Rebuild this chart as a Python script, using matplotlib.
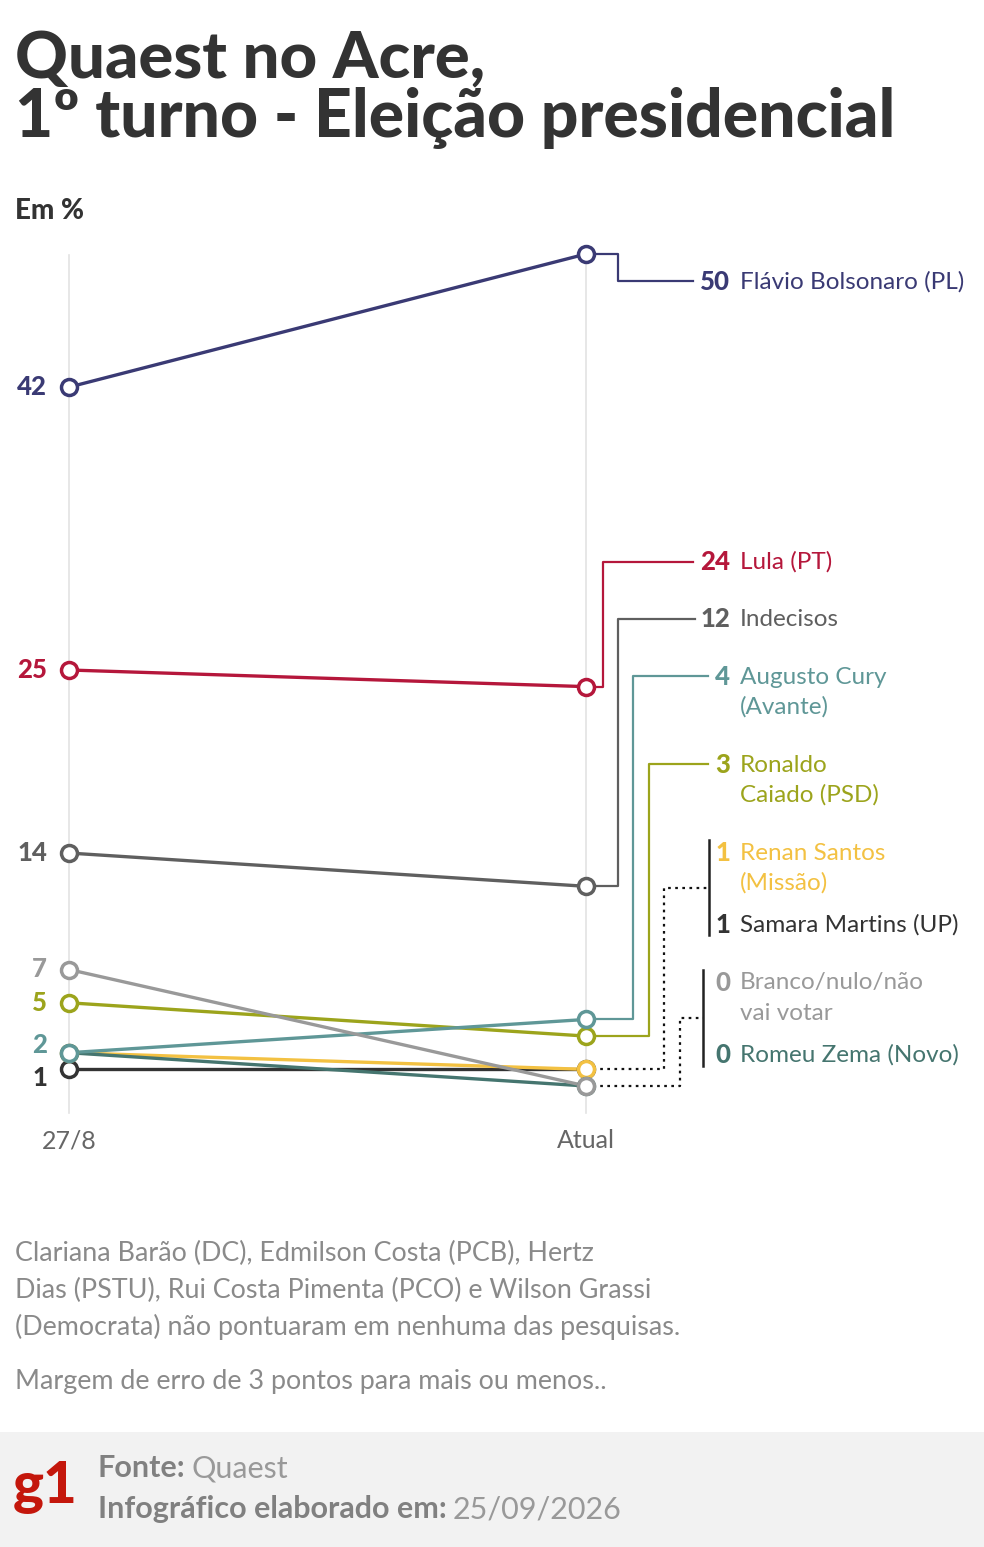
import matplotlib
matplotlib.use("Agg")
import matplotlib.pyplot as plt
from matplotlib.patches import Rectangle

# ---------------- data ----------------
periods = ["27/8", "Atual"]
names = ["Flávio Bolsonaro (PL)", "Lula (PT)", "Indecisos", "Augusto Cury\n(Avante)",
         "Ronaldo\nCaiado (PSD)", "Renan Santos\n(Missão)", "Romeu Zema (Novo)",
         "Samara Martins (UP)", "Branco/nulo/não\nvai votar"]
first = [42, 25, 14, 2, 5, 2, 2, 1, 7]
current = [50, 24, 12, 4, 3, 1, 0, 1, 0]
colors = ["#3a3a74", "#b5173b", "#5f5f5f", "#5f9797", "#9ca41c", "#f3c142",
          "#45756f", "#333333", "#999999"]
# left-side value labels: (series index, label y in px)
left_labels = [(0, 387), (1, 670), (2, 853), (8, 969), (4, 1003), (3, 1045), (7, 1078)]
# drawing order (last on top)
draw_order = [0, 1, 2, 4, 7, 5, 6, 3, 8]

W, H = 984, 1547
fig = plt.figure(figsize=(W / 100, H / 100), dpi=100)
ax = fig.add_axes([0, 0, 1, 1])
ax.set_axis_off()

# pixel geometry -> data
X0, X1 = 69, 586
Y50, Y0 = 254, 1086
sx = X1 - X0
sy = (Y0 - Y50) / 50.0
ax.set_xlim(-X0 / sx, (W - X0) / sx)
ax.set_ylim(-(H - Y0) / sy, 50 + Y50 / sy)

def px(x):
    return (x - X0) / sx

def py(y):
    return 50 - (y - Y50) / sy

FONT = "Lato"

# vertical guide lines
for i in range(2):
    ax.plot([i, i], [py(255), py(1113)], color="#e3e3e3", lw=1.2, zorder=0)

# lines and markers
for n, i in enumerate(draw_order):
    ax.plot([0, 1], [first[i], current[i]], color=colors[i], lw=2.4,
            solid_capstyle="round", zorder=2 + n * 0.1)
for n, i in enumerate(draw_order):
    ax.plot([0, 1], [first[i], current[i]], linestyle="none", marker="o",
            markersize=11.5, markerfacecolor="white", markeredgecolor=colors[i],
            markeredgewidth=2.5, zorder=4 + n * 0.1)

# left value labels
for i, ly in left_labels:
    ax.text(px(47), py(ly), str(first[i]), ha="right", va="center",
            color=colors[i], fontsize=18.5, fontweight="black", family=FONT)

# x labels
for i, p in enumerate(periods):
    ax.text(i, py(1141), p, ha="center", va="center", color="#666666",
            fontsize=18, family=FONT)

# connectors (elbow x, label y, end x)
conn = {
    0: (618, 281, 693),
    1: (603, 562, 693),
    2: (618, 619, 695),
    3: (633, 676, 708),
    4: (649, 764, 708),
}
for i, (ex, ly, endx) in conn.items():
    ax.plot([1, px(ex), px(ex), px(endx)], [current[i], current[i], py(ly), py(ly)],
            color=colors[i], lw=1.6, zorder=1)

# dotted group connectors
ax.plot([1, px(664), px(664), px(708)], [current[5], current[5], py(888), py(888)],
        color="#111111", lw=1.6, linestyle=(0, (1.2, 2.0)), zorder=1)
ax.plot([1, px(680), px(680), px(703)], [current[6], current[6], py(1018), py(1018)],
        color="#111111", lw=1.6, linestyle=(0, (1.2, 2.0)), zorder=1)
ax.plot([px(709), px(709)], [py(840), py(935)], color="#222222", lw=1.8)
ax.plot([px(703), px(703)], [py(970), py(1066)], color="#222222", lw=1.8)

# right labels: (series, first-line y px)
label_pos = [(0, 282), (1, 562), (2, 619), (3, 677), (4, 765), (5, 853),
             (7, 925), (8, 983), (6, 1055)]
for i, ly in label_pos:
    ax.text(px(730), py(ly), str(current[i]), ha="right", va="center",
            color=colors[i], fontsize=18.5, fontweight="black", family=FONT)
    for k, line in enumerate(names[i].split("\n")):
        ax.text(px(740), py(ly + 30 * k), line, ha="left", va="center",
                color=colors[i], fontsize=17.5, family=FONT)

# title and subtitle
fig.text(15 / W, 1 - 60 / H, "Quaest no Acre,", ha="left", va="center",
         fontsize=47, fontweight="black", color="#333333", family=FONT)
fig.text(15 / W, 1 - 118 / H, "1º turno - Eleição presidencial", ha="left", va="center",
         fontsize=47.5, fontweight="black", color="#333333", family=FONT)
fig.text(15 / W, 1 - 211 / H, "Em %", ha="left", va="center",
         fontsize=20, fontweight="black", color="#333333", family=FONT)

# notes
notes = ["Clariana Barão (DC), Edmilson Costa (PCB), Hertz",
         "Dias (PSTU), Rui Costa Pimenta (PCO) e Wilson Grassi",
         "(Democrata) não pontuaram em nenhuma das pesquisas."]
for k, line in enumerate(notes):
    fig.text(15 / W, 1 - (1253 + 37 * k) / H, line, ha="left", va="center",
             fontsize=19.4, color="#8a8a8a", family=FONT)
fig.text(15 / W, 1 - 1381 / H, "Margem de erro de 3 pontos para mais ou menos..",
         ha="left", va="center", fontsize=19.4, color="#8a8a8a", family=FONT)

# footer
fig.patches.append(Rectangle((0, 0), 1, (H - 1432) / H, transform=fig.transFigure,
                             facecolor="#f2f2f2", edgecolor="none", zorder=0))
fig.text(13 / W, 1 - 1487 / H, "g1", ha="left", va="center", fontsize=42,
         fontweight="black", color="#c4170c", family=FONT)

renderer = fig.canvas.get_renderer()

def two_part(x, y, bold, regular, size):
    t = fig.text(x / W, 1 - y / H, bold, ha="left", va="center", fontsize=size,
                 fontweight="bold", color="#808080", family=FONT)
    bb = t.get_window_extent(renderer=renderer)
    fig.text((bb.x1 + 6) / W, 1 - y / H, regular, ha="left", va="center",
             fontsize=size, color="#999999", family=FONT)

two_part(98, 1468, "Fonte:", "Quaest", 22)
two_part(98, 1509, "Infográfico elaborado em:", "25/09/2026", 22)

fig.savefig("out.png", dpi=100, facecolor="white")
